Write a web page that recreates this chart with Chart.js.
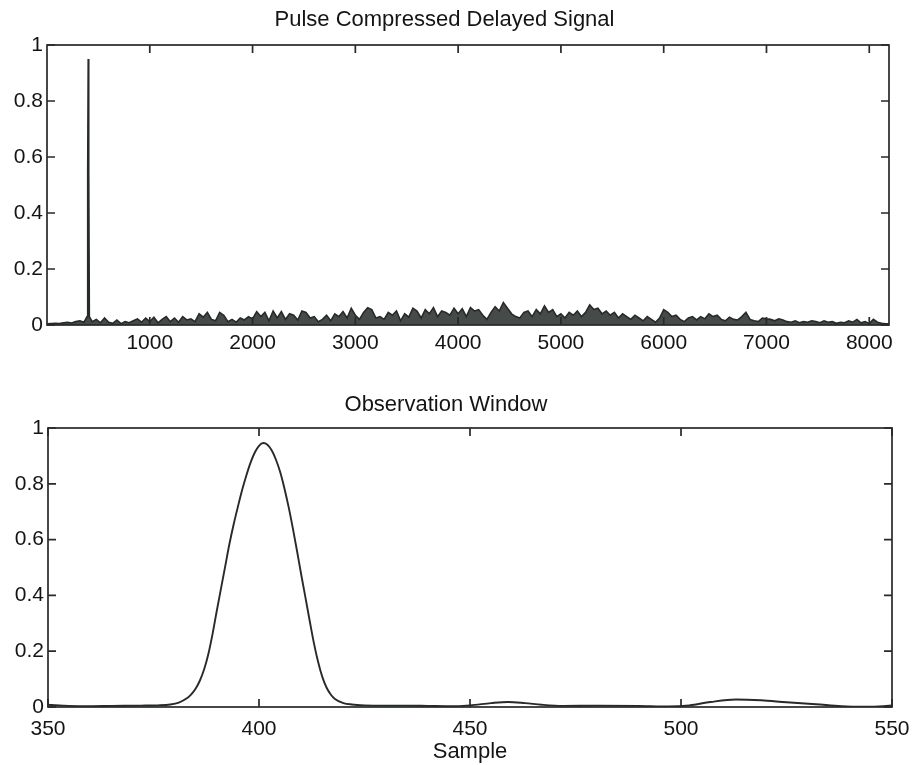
<!DOCTYPE html>
<html>
<head>
<meta charset="utf-8">
<title>Pulse Compressed Delayed Signal</title>
<script src="https://cdn.jsdelivr.net/npm/chart.js@4.4.0/dist/chart.umd.min.js"></script>
<style>
  html, body { margin: 0; padding: 0; background: #fff; }
  #wrap { position: relative; width: 913px; height: 765px; }
  canvas { position: absolute; left: 0; }
  #pulse-chart { top: 0; }
  #window-chart { top: 370px; }
</style>
</head>
<body>
<div id="wrap">
  <canvas id="pulse-chart" width="913" height="370"></canvas>
  <canvas id="window-chart" width="913" height="395"></canvas>
</div>
<script>
// --- data ---
// full record: sample index and compressed amplitude
const pulseSamples = [
  0, 40, 80, 120, 160, 200, 240, 280, 320, 360,
  390, 396, 401, 406, 412,
  440, 480, 520, 560, 600, 640, 680, 720, 760, 800,
  840, 880, 920, 960, 1000, 1040, 1080, 1120, 1160, 1200,
  1240, 1280, 1320, 1360, 1400, 1440, 1480, 1520, 1560, 1600,
  1640, 1680, 1720, 1760, 1800, 1840, 1880, 1920, 1960, 2000,
  2040, 2080, 2120, 2160, 2200, 2240, 2280, 2320, 2360, 2400,
  2440, 2480, 2520, 2560, 2600, 2640, 2680, 2720, 2760, 2800,
  2840, 2880, 2920, 2960, 3000, 3040, 3080, 3120, 3160, 3200,
  3240, 3280, 3320, 3360, 3400, 3440, 3480, 3520, 3560, 3600,
  3640, 3680, 3720, 3760, 3800, 3840, 3880, 3920, 3960, 4000,
  4040, 4080, 4120, 4160, 4200, 4240, 4280, 4320, 4360, 4400,
  4440, 4480, 4520, 4560, 4600, 4640, 4680, 4720, 4760, 4800,
  4840, 4880, 4920, 4960, 5000, 5040, 5080, 5120, 5160, 5200,
  5240, 5280, 5320, 5360, 5400, 5440, 5480, 5520, 5560, 5600,
  5640, 5680, 5720, 5760, 5800, 5840, 5880, 5920, 5960, 6000,
  6040, 6080, 6120, 6160, 6200, 6240, 6280, 6320, 6360, 6400,
  6440, 6480, 6520, 6560, 6600, 6640, 6680, 6720, 6760, 6800,
  6840, 6880, 6920, 6960, 7000, 7040, 7080, 7120, 7160, 7200,
  7240, 7280, 7320, 7360, 7400, 7440, 7480, 7520, 7560, 7600,
  7640, 7680, 7720, 7760, 7800, 7840, 7880, 7920, 7960, 8000,
  8040, 8080, 8120, 8160, 8192
];
const pulseAmplitude = [
  0.004, 0.005, 0.006, 0.005, 0.008, 0.010, 0.007, 0.012, 0.015, 0.010,
  0.030, 0.550, 0.950, 0.550, 0.030,
  0.012, 0.020, 0.008, 0.025, 0.010, 0.006, 0.018, 0.005, 0.012, 0.008,
  0.015, 0.022, 0.010, 0.025, 0.012, 0.028, 0.008, 0.020, 0.030, 0.012,
  0.025, 0.010, 0.030, 0.018, 0.022, 0.012, 0.040, 0.028, 0.045, 0.020,
  0.015, 0.045, 0.035, 0.012, 0.020, 0.010, 0.025, 0.018, 0.030, 0.022,
  0.048, 0.030, 0.045, 0.015, 0.050, 0.025, 0.048, 0.020, 0.040, 0.035,
  0.018, 0.050, 0.045, 0.025, 0.030, 0.012, 0.020, 0.035, 0.015, 0.040,
  0.030, 0.048, 0.025, 0.060, 0.035, 0.020, 0.045, 0.062, 0.055, 0.025,
  0.030, 0.020, 0.045, 0.035, 0.050, 0.015, 0.040, 0.028, 0.060, 0.050,
  0.025, 0.055, 0.040, 0.062, 0.030, 0.050, 0.045, 0.035, 0.060, 0.040,
  0.058, 0.030, 0.062, 0.050, 0.055, 0.035, 0.020, 0.045, 0.065, 0.050,
  0.080, 0.060, 0.040, 0.030, 0.025, 0.045, 0.050, 0.030, 0.055, 0.040,
  0.068, 0.045, 0.055, 0.030, 0.040, 0.025, 0.045, 0.035, 0.050, 0.030,
  0.045, 0.072, 0.055, 0.060, 0.040, 0.050, 0.035, 0.045, 0.025, 0.040,
  0.030, 0.020, 0.035, 0.025, 0.015, 0.030, 0.020, 0.010, 0.025, 0.055,
  0.045, 0.030, 0.035, 0.020, 0.012, 0.025, 0.030, 0.018, 0.030, 0.022,
  0.040, 0.030, 0.035, 0.020, 0.015, 0.028, 0.020, 0.018, 0.030, 0.045,
  0.020, 0.015, 0.012, 0.025, 0.022, 0.020, 0.015, 0.022, 0.018, 0.012,
  0.010, 0.015, 0.008, 0.012, 0.010, 0.015, 0.012, 0.008, 0.015, 0.010,
  0.012, 0.006, 0.010, 0.008, 0.015, 0.010, 0.020, 0.008, 0.012, 0.005,
  0.020, 0.010, 0.006, 0.004, 0.004
];

// zoomed observation window around the target
const windowSamples = [
  350, 355, 360, 365, 372, 376, 379, 381, 383, 384,
  385, 386, 387, 388, 389, 390, 391, 392, 393, 394,
  395, 396, 397, 398, 399, 400, 401, 402, 403, 404,
  405, 406, 407, 408, 409, 410, 411, 412, 413, 414,
  415, 416, 417, 418, 420, 422, 425, 430, 435,
  440, 445, 450, 455, 459, 463, 467, 472, 480, 490,
  497, 502, 507, 513, 519, 525, 532, 538, 543, 548,
  550
];
const windowAmplitude = [
  0.008, 0.004, 0.003, 0.004, 0.005, 0.006, 0.009, 0.016, 0.032, 0.046,
  0.066, 0.095, 0.135, 0.190, 0.262, 0.345, 0.425, 0.505, 0.585, 0.655,
  0.718, 0.778, 0.830, 0.876, 0.912, 0.936, 0.946, 0.940, 0.920, 0.887,
  0.843, 0.785, 0.718, 0.642, 0.560, 0.475, 0.393, 0.310, 0.230, 0.162,
  0.108, 0.070, 0.045, 0.029, 0.014, 0.009, 0.006, 0.005, 0.005,
  0.004, 0.003, 0.006, 0.014, 0.018, 0.014, 0.008, 0.004, 0.005, 0.004,
  0.002, 0.006, 0.018, 0.027, 0.024, 0.017, 0.010, 0.003, 0.001, 0.003,
  0.006
];

const pulseTicks = [1000, 2000, 3000, 4000, 5000, 6000, 7000, 8000];
const windowTicks = [350, 400, 450, 500, 550];
const amplitudeTicks = [0, 0.2, 0.4, 0.6, 0.8, 1];

const INK = '#262a28';
const TEXT = '#141414';
const FONT = "'Liberation Sans', Arial, Helvetica, sans-serif";
const TICK_LEN = 8;

Chart.defaults.font.family = FONT;
Chart.defaults.color = TEXT;

// matlab style box with inward ticks on all four sides
const matlabFrame = {
    id: 'matlabFrame',
    afterDatasetsDraw(chart) {
        const { ctx, chartArea: a, scales } = chart;
        ctx.save();
        ctx.strokeStyle = INK;
        ctx.lineWidth = 1.7;
        ctx.strokeRect(a.left, a.top, a.right - a.left, a.bottom - a.top);
        ctx.beginPath();
        scales.x.ticks.forEach(t => {
            const px = scales.x.getPixelForValue(t.value);
            ctx.moveTo(px, a.bottom); ctx.lineTo(px, a.bottom - TICK_LEN);
            ctx.moveTo(px, a.top); ctx.lineTo(px, a.top + TICK_LEN);
        });
        scales.y.ticks.forEach(t => {
            const py = scales.y.getPixelForValue(t.value);
            ctx.moveTo(a.left, py); ctx.lineTo(a.left + TICK_LEN, py);
            ctx.moveTo(a.right, py); ctx.lineTo(a.right - TICK_LEN, py);
        });
        ctx.stroke();
        ctx.restore();
    }
};

function toPoints(xs, ys) {
    return xs.map((x, i) => ({ x: x, y: ys[i] }));
}

function buildOptions(cfg) {
    return {
        responsive: false,
        animation: false,
        events: [],
        layout: { padding: { left: 0, right: cfg.rightPad, top: 0, bottom: 0 } },
        plugins: {
            legend: { display: false },
            tooltip: { enabled: false },
            title: {
                display: true,
                text: cfg.title,
                color: TEXT,
                font: { size: 22, weight: 'normal' },
                padding: cfg.titlePad
            }
        },
        scales: {
            x: {
                type: 'linear',
                min: cfg.xMin,
                max: cfg.xMax,
                grid: { display: false, drawTicks: false },
                border: { display: false },
                afterBuildTicks: s => { s.ticks = cfg.xTicks.map(v => ({ value: v })); },
                afterFit: s => {
                    s.height = cfg.xHeight;
                    // labels may hang over the frame edges, like matlab
                    s.paddingLeft = 0;
                    s.paddingRight = 0;
                },
                ticks: {
                    autoSkip: false,
                    maxRotation: 0,
                    padding: cfg.xTickPad,
                    font: { size: 21 },
                    callback: v => String(v)
                },
                title: cfg.xTitle ? {
                    display: true,
                    text: cfg.xTitle,
                    font: { size: 22 },
                    padding: { top: 0, bottom: 0 }
                } : { display: false }
            },
            y: {
                min: 0,
                max: 1,
                grid: { display: false, drawTicks: false },
                border: { display: false },
                afterBuildTicks: s => { s.ticks = amplitudeTicks.map(v => ({ value: v })); },
                afterFit: s => {
                    s.width = cfg.yWidth;
                    s.paddingTop = 0;
                    s.paddingBottom = 0;
                },
                ticks: {
                    padding: 4,
                    font: { size: 21 },
                    callback: v => String(v)
                }
            }
        }
    };
}

new Chart(document.getElementById('pulse-chart'), {
    type: 'line',
    data: {
        datasets: [{
            data: toPoints(pulseSamples, pulseAmplitude),
            borderColor: INK,
            borderWidth: 1.6,
            backgroundColor: 'rgba(38, 42, 40, 0.85)',
            fill: 'origin',
            pointRadius: 0,
            tension: 0
        }]
    },
    options: buildOptions({
        title: 'Pulse Compressed Delayed Signal',
        titlePad: { top: 7, bottom: 11.6 },
        rightPad: 24,
        xMin: 0, xMax: 8192,
        xTicks: pulseTicks,
        xHeight: 45,
        xTickPad: 6,
        yWidth: 47
    }),
    plugins: [matlabFrame]
});

new Chart(document.getElementById('window-chart'), {
    type: 'line',
    data: {
        datasets: [{
            data: toPoints(windowSamples, windowAmplitude),
            borderColor: INK,
            borderWidth: 1.9,
            pointRadius: 0,
            cubicInterpolationMode: 'monotone'
        }]
    },
    options: buildOptions({
        title: 'Observation Window',
        titlePad: { top: 21.8, bottom: 9.8 },
        rightPad: 21,
        xMin: 350, xMax: 550,
        xTicks: windowTicks,
        xHeight: 58,
        xTickPad: 10,
        xTitle: 'Sample',
        yWidth: 48
    }),
    plugins: [matlabFrame]
});
</script>
</body>
</html>
